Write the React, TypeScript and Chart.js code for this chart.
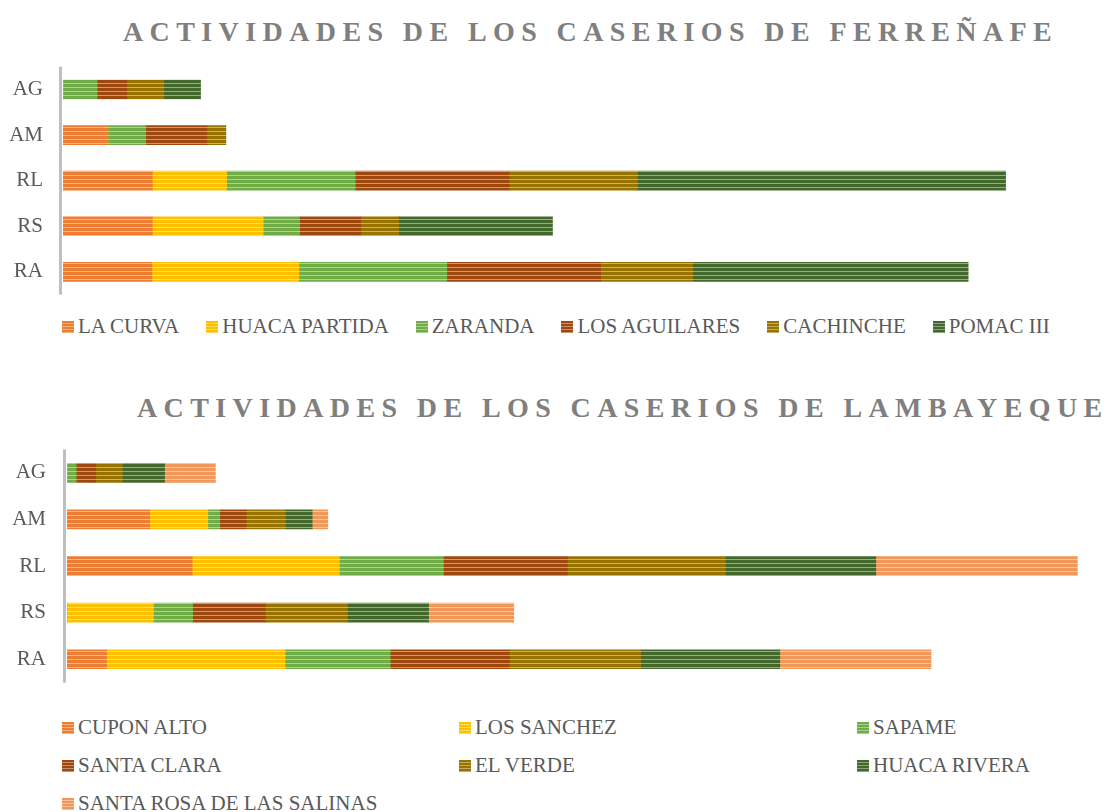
import React, { useEffect, useRef } from 'react';
import { Chart, registerables } from 'chart.js';

Chart.register(...registerables);

// ---------- DATA ----------
const CATEGORIES = ['AG', 'AM', 'RL', 'RS', 'RA'];

const TITLE_FERRENAFE = 'ACTIVIDADES DE LOS CASERIOS DE FERREÑAFE';
const SERIES_FERRENAFE = ['LA CURVA', 'HUACA PARTIDA', 'ZARANDA', 'LOS AGUILARES', 'CACHINCHE', 'POMAC III'];
const LA_CURVA = [0, 12.1, 24.1, 24.1, 24.0];
const HUACA_PARTIDA = [0, 0, 20.0, 29.9, 39.6];
const ZARANDA = [9.2, 10.2, 34.7, 9.8, 39.9];
const LOS_AGUILARES = [8.0, 16.5, 41.5, 16.5, 41.5];
const CACHINCHE = [10.0, 5.1, 34.6, 10.2, 24.8];
const POMAC_III = [9.9, 0, 99.3, 41.5, 74.3];

const TITLE_LAMBAYEQUE = 'ACTIVIDADES DE LOS CASERIOS DE LAMBAYEQUE';
const SERIES_LAMBAYEQUE = ['CUPON ALTO', 'LOS SANCHEZ', 'SAPAME', 'SANTA CLARA', 'EL VERDE', 'HUACA RIVERA', 'SANTA ROSA DE LAS SALINAS'];
const CUPON_ALTO = [0, 20.7, 31.3, 0, 9.9];
const LOS_SANCHEZ = [0, 14.5, 36.8, 21.6, 44.6];
const SAPAME = [2.3, 3.0, 26.0, 9.8, 26.3];
const SANTA_CLARA = [4.9, 6.6, 31.0, 18.2, 29.8];
const EL_VERDE = [6.6, 9.8, 39.5, 20.5, 32.8];
const HUACA_RIVERA = [10.6, 6.7, 37.6, 20.3, 34.8];
const SANTA_ROSA = [12.7, 3.9, 50.4, 21.3, 37.8];

const COLORS = ['#ED7D31', '#FFC000', '#70AD47', '#9E480E', '#997300', '#43682B', '#F1975A'];

const FONT = '"Liberation Serif", "DejaVu Serif", serif';
const TEXT_COLOR = '#595959';
const TITLE_COLOR = '#7F7F7F';

// ---------- helpers ----------
function tint(hex: string, amt: number): string {
  const n = parseInt(hex.slice(1), 16);
  const r = (n >> 16) & 255, g = (n >> 8) & 255, b = n & 255;
  const m = (c: number) => Math.round(c + (255 - c) * amt);
  return `rgb(${m(r)},${m(g)},${m(b)})`;
}

function stripePattern(ctx: CanvasRenderingContext2D, color: string): CanvasPattern | string {
  const c = document.createElement('canvas');
  c.width = 8;
  c.height = 4;
  const p = c.getContext('2d');
  if (!p) return color;
  p.fillStyle = color;
  p.fillRect(0, 0, 8, 4);
  p.fillStyle = tint(color, 0.45);
  p.fillRect(0, 3, 8, 1);
  return ctx.createPattern(c, 'repeat') || color;
}

const axisLinePlugin = {
  id: 'axisLine',
  beforeDatasetsDraw(chart: any) {
    const { ctx, chartArea } = chart;
    ctx.save();
    ctx.fillStyle = '#BFBFBF';
    ctx.fillRect(chartArea.left - 4, chartArea.top, 3, chartArea.bottom - chartArea.top);
    ctx.restore();
  },
};

interface BarProps {
  series: string[];
  values: number[][];
  top: number;
  height: number;
  axisWidth: number;
  labelPad: number;
  xMax: number;
  padTop: number;
  padBottom: number;
  padRight: number;
}

function StackedBars(props: BarProps) {
  const ref = useRef<HTMLCanvasElement | null>(null);
  useEffect(() => {
    const canvas = ref.current;
    if (!canvas) return;
    const ctx = canvas.getContext('2d');
    if (!ctx) return;
    const chart = new Chart(ctx, {
      type: 'bar',
      data: {
        labels: CATEGORIES,
        datasets: props.series.map((name, i) => ({
          label: name,
          data: props.values[i],
          backgroundColor: stripePattern(ctx, COLORS[i]) as any,
          borderWidth: 0,
          barThickness: 19,
        })),
      },
      options: {
        indexAxis: 'y',
        responsive: false,
        animation: false,
        layout: { padding: { top: props.padTop, bottom: props.padBottom, right: props.padRight, left: 0 } },
        plugins: { legend: { display: false }, tooltip: { enabled: false }, title: { display: false } },
        scales: {
          x: { stacked: true, display: false, min: 0, max: props.xMax },
          y: {
            stacked: true,
            grid: { display: false, drawTicks: false },
            border: { display: false },
            ticks: { color: TEXT_COLOR, font: { family: FONT, size: 21, lineHeight: 0.4 }, padding: props.labelPad },
            afterFit: (scale: any) => {
              scale.width = props.axisWidth;
              scale.paddingTop = 0;
              scale.paddingBottom = 0;
            },
          },
        },
      },
      plugins: [axisLinePlugin],
    });
    return () => chart.destroy();
  }, []);
  return (
    <canvas
      ref={ref}
      width={1108}
      height={props.height}
      style={{ position: 'absolute', left: 0, top: props.top, width: 1108, height: props.height }}
    />
  );
}

function LegendBox({ color }: { color: string }) {
  return (
    <span
      style={{
        display: 'inline-block',
        width: 12,
        height: 12,
        marginRight: 4,
        background: `repeating-linear-gradient(to bottom, ${color} 0px, ${color} 2px, ${tint(color, 0.4)} 2px, ${tint(color, 0.4)} 3px)`,
      }}
    />
  );
}

const textStyle: React.CSSProperties = {
  fontFamily: FONT,
  fontSize: 21,
  lineHeight: '21px',
  color: TEXT_COLOR,
  whiteSpace: 'nowrap',
};

const titleStyle: React.CSSProperties = {
  position: 'absolute',
  fontFamily: FONT,
  fontWeight: 'bold',
  fontSize: 28,
  lineHeight: '28px',
  letterSpacing: '6.4px',
  color: TITLE_COLOR,
  whiteSpace: 'nowrap',
};

export default function App() {
  return (
    <div style={{ position: 'absolute', left: 0, top: 0, width: 1108, height: 812, background: '#fff', overflow: 'hidden' }}>
      <div style={{ ...titleStyle, left: 123, top: 18 }}>{TITLE_FERRENAFE}</div>
      <StackedBars
        series={SERIES_FERRENAFE}
        values={[LA_CURVA, HUACA_PARTIDA, ZARANDA, LOS_AGUILARES, CACHINCHE, POMAC_III]}
        top={60}
        height={240}
        axisWidth={63}
        labelPad={20}
        xMax={270}
        padTop={6.7}
        padBottom={5.4}
        padRight={43.8}
      />
      <div style={{ position: 'absolute', left: 62, top: 316, display: 'flex', gap: 27 }}>
        {SERIES_FERRENAFE.map((s, i) => (
          <div key={s} style={{ display: 'flex', alignItems: 'center', ...textStyle }}>
            <LegendBox color={COLORS[i]} />
            <span>{s}</span>
          </div>
        ))}
      </div>

      <div style={{ ...titleStyle, left: 137, top: 394 }}>{TITLE_LAMBAYEQUE}</div>
      <StackedBars
        series={SERIES_LAMBAYEQUE}
        values={[CUPON_ALTO, LOS_SANCHEZ, SAPAME, SANTA_CLARA, EL_VERDE, HUACA_RIVERA, SANTA_ROSA]}
        top={440}
        height={250}
        axisWidth={67}
        labelPad={21}
        xMax={260}
        padTop={9.5}
        padBottom={7.4}
        padRight={1}
      />
      <div
        style={{
          position: 'absolute',
          left: 62,
          top: 717,
          display: 'grid',
          gridTemplateColumns: '397px 398px 200px',
          rowGap: 17,
        }}
      >
        {SERIES_LAMBAYEQUE.map((s, i) => (
          <div key={s} style={{ display: 'flex', alignItems: 'center', ...textStyle }}>
            <LegendBox color={COLORS[i]} />
            <span>{s}</span>
          </div>
        ))}
      </div>
    </div>
  );
}
